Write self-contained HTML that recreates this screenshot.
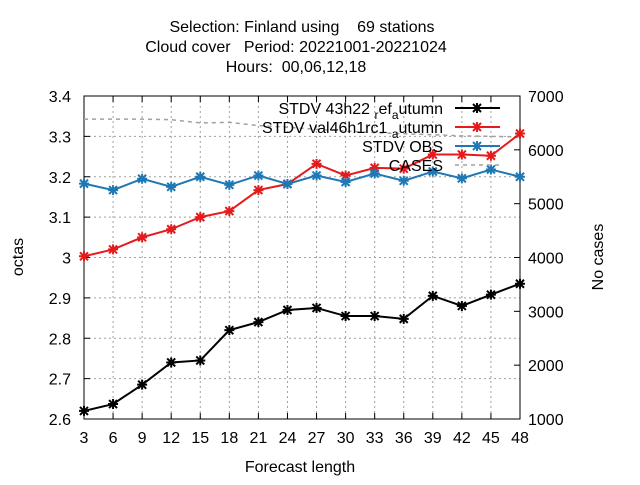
<!DOCTYPE html>
<html><head><meta charset="utf-8"><style>
body{margin:0;background:#fff}
svg{font-family:"Liberation Sans",sans-serif;font-size:16px}
</style></head><body>
<svg id="c" width="640" height="480" xmlns="http://www.w3.org/2000/svg">
<rect width="640" height="480" fill="#fff"/>
<g text-anchor="middle" font-size="16">
<text x="302" y="32" xml:space="preserve">Selection: Finland using    69 stations</text>
<text x="296" y="52" xml:space="preserve">Cloud cover   Period: 20221001-20221024</text>
<text x="296" y="72" xml:space="preserve">Hours:  00,06,12,18</text>
</g>
<g id="grid"></g>
<g id="axes"></g>
<g id="series"></g>
<g id="legend"></g>
<text x="23" y="257" transform="rotate(-90 23 257)" text-anchor="middle">octas</text>
<text x="603" y="257" transform="rotate(-90 603 257)" text-anchor="middle">No cases</text>
<text x="300" y="472" text-anchor="middle">Forecast length</text>
</svg>
<script>
const categories=[3,6,9,12,15,18,21,24,27,30,33,36,39,42,45,48];
const refValues=[2.62,2.637,2.685,2.74,2.745,2.82,2.84,2.87,2.875,2.855,2.855,2.848,2.905,2.88,2.908,2.935];
const valValues=[3.003,3.02,3.05,3.07,3.1,3.115,3.167,3.182,3.232,3.203,3.222,3.22,3.255,3.255,3.252,3.307];
const obsValues=[3.183,3.167,3.195,3.175,3.2,3.18,3.203,3.182,3.203,3.187,3.208,3.19,3.213,3.196,3.218,3.2];
const casesValues=[6570,6570,6570,6560,6500,6510,6450,6420,6380,6350,6320,6300,6280,6260,6250,6240];
const yTicks=["2.6","2.7","2.8","2.9","3","3.1","3.2","3.3","3.4"];
const y2Ticks=["1000","2000","3000","4000","5000","6000","7000"];
const legendParts=[[["STDV 43h22 ",0],["r",1],["ef",0],["a",1],["utumn",0]],[["STDV val46h1rc1 ",0],["a",1],["utumn",0]],[["STDV OBS",0]],[["CASES",0]]];
const L=84,R=520,T=96,B=419;
const NS="http://www.w3.org/2000/svg";
const xs=v=>L+(v-3)/(48-3)*(R-L);
const ys=v=>B-(v-2.6)/(3.4-2.6)*(B-T);
const y2=v=>B-(v-1000)/(7000-1000)*(B-T);
function mk(p,tag,a){const e=document.createElementNS(NS,tag);for(const k in a)e.setAttribute(k,a[k]);p.appendChild(e);return e;}
const grid=document.getElementById('grid'),axes=document.getElementById('axes'),ser=document.getElementById('series'),leg=document.getElementById('legend');
categories.forEach(c=>{const x=xs(c);
 if(c!==3&&c!==48){const g=mk(grid,'line',{x1:x,x2:x,y1:T,y2:B,stroke:'#a0a0a0','stroke-dasharray':'2,3','stroke-width':1});}
 mk(axes,'line',{x1:x,x2:x,y1:B,y2:B-6,stroke:'#000'});mk(axes,'line',{x1:x,x2:x,y1:T,y2:T+6,stroke:'#000'});
 const t=mk(axes,'text',{x:x,y:B+24,'text-anchor':'middle'});t.textContent=c;
 });
yTicks.forEach(s=>{const y=ys(parseFloat(s));
 if(y>T+1&&y<B-1){const g=mk(grid,'line',{x1:L,x2:R,y1:y,y2:y,stroke:'#a0a0a0','stroke-dasharray':'2,3'});}
 mk(axes,'line',{x1:L,x2:L+6,y1:y,y2:y,stroke:'#000'});
 const t=mk(axes,'text',{x:71,y:y+6,'text-anchor':'end'});t.textContent=s;
 });
y2Ticks.forEach(s=>{const y=y2(parseFloat(s));
 mk(axes,'line',{x1:R,x2:R-6,y1:y,y2:y,stroke:'#000'});
 const t=mk(axes,'text',{x:528,y:y+6,'text-anchor':'start'});t.textContent=s;
 });
mk(axes,'rect',{x:L,y:T,width:R-L,height:B-T,fill:'none',stroke:'#000'});
function star(p,x,y,col){mk(p,'path',{d:`M${x-4},${y-4}L${x+4},${y+4}M${x-4},${y+4}L${x+4},${y-4}M${x-5},${y}L${x+5},${y}M${x},${y-5}L${x},${y+5}`,stroke:col,'stroke-width':2});}
const cp=mk(ser,'polyline',{points:categories.map((c,i)=>xs(c)+','+y2(casesValues[i])).join(' '),fill:'none',stroke:'#a0a0a0','stroke-width':1.5,'stroke-dasharray':'4,4'});

[[refValues,'#000','ref-line'],[valValues,'#e41a1c','val-line'],[obsValues,'#1f77b4','obs-line']].forEach(([vals,col,nm])=>{
 const g=mk(ser,'g',{});
 mk(g,'polyline',{points:categories.map((c,i)=>xs(c)+','+ys(vals[i])).join(' '),fill:'none',stroke:col,'stroke-width':2});
 categories.forEach((c,i)=>star(g,xs(c),ys(vals[i]),col));});
const lcol=['#000','#e41a1c','#1f77b4','#a0a0a0'];
legendParts.forEach((parts,i)=>{const y=108+i*19;
 const g=mk(leg,'g',{});
 const t=mk(g,'text',{x:443,y:y+6,'text-anchor':'end'});
 let sub=0;
 parts.forEach(([s,isSub])=>{const ts=document.createElementNS(NS,'tspan');
  if(isSub&&!sub){ts.setAttribute('dy','5');sub=1;}
  else if(!isSub&&sub){ts.setAttribute('dy','-5');sub=0;}
  if(isSub)ts.setAttribute('font-size','12');
  ts.setAttribute('xml:space','preserve');
  ts.textContent=s;t.appendChild(ts);});
 if(i<3){mk(g,'line',{x1:455,x2:500,y1:y,y2:y,stroke:lcol[i],'stroke-width':2});star(g,477,y,lcol[i]);}
 else mk(g,'line',{x1:455,x2:500,y1:y,y2:y,stroke:lcol[i],'stroke-width':1.5,'stroke-dasharray':'4,4'});});
</script>
</body></html>
